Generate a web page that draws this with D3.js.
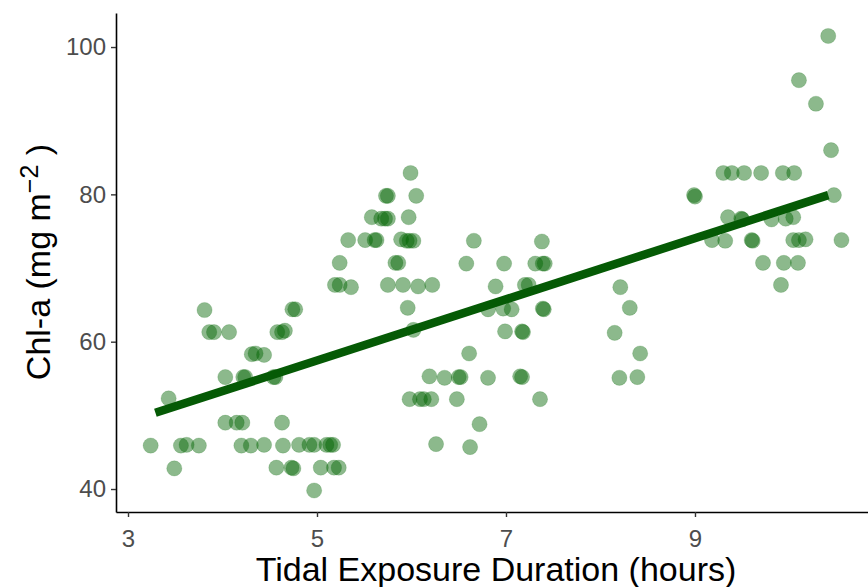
<!DOCTYPE html>
<html>
<head>
<meta charset="utf-8">
<script src="https://cdn.jsdelivr.net/npm/d3@7"></script>
<style>
  html, body { margin: 0; padding: 0; background: #ffffff; }
  svg { display: block; }
</style>
</head>
<body>
<svg id="chart" width="868" height="587"></svg>
<script>
// Tidal exposure duration (hours) and chlorophyll-a (mg m^-2) per sample
const exposureHours = [
  3.24, 3.43, 3.49, 3.56, 3.62, 3.75, 3.81, 3.86, 3.91, 4.07,
  4.03, 4.03, 4.15, 4.21, 4.22, 4.24, 4.20, 4.30, 4.31, 4.35,
  4.44, 4.44, 4.54, 4.56, 4.57, 4.58, 4.63, 4.66, 4.63, 4.64,
  4.73, 4.75, 4.74, 4.77, 4.81, 4.92, 4.97, 4.97, 5.04, 5.10,
  5.14, 5.17, 5.18, 5.23, 5.19, 5.24, 5.36, 5.24, 5.33,
  5.51, 5.61, 5.63, 5.58, 5.68, 5.72, 5.75, 5.73, 5.75, 6.05,
  5.99, 5.97, 5.89, 5.95, 5.98, 6.02, 5.83, 5.86, 5.75, 5.91,
  6.07, 6.22, 5.96, 6.02, 5.98, 6.09, 6.13, 6.21, 6.19, 6.35,
  6.50, 6.52, 6.26, 6.48, 6.62, 6.72, 6.61, 6.58, 6.66, 6.81,
  6.81, 6.89, 6.97, 6.98, 6.99, 7.06, 7.17, 7.18, 7.15, 7.17,
  7.20, 7.24, 7.31, 7.39, 7.41, 7.38, 7.39, 7.40, 7.36,
  8.21, 8.31, 8.15, 8.42, 8.20, 8.39,
  8.99, 9.00, 9.30, 9.39, 9.52, 9.70, 9.93, 10.05, 9.35, 9.49,
  9.50, 9.81, 9.96, 10.04, 9.18, 9.32, 9.60, 9.61, 10.04, 10.10,
  10.17, 10.55, 9.72, 9.94, 10.09, 9.91, 10.41, 10.10, 10.28, 10.44,
  10.47
];
const chlA = [
  45.9, 52.3, 42.8, 45.9, 46.0, 45.9, 64.3, 61.3, 61.3, 61.3,
  55.2, 49.0, 49.0, 49.0, 55.2, 55.2, 45.9, 45.9, 58.3, 58.4,
  58.2, 46.0, 55.2, 55.2, 42.9, 61.3, 61.3, 61.5, 49.0, 45.9,
  42.9, 42.8, 64.4, 64.4, 46.0, 46.0, 46.0, 39.8, 42.9, 46.0,
  46.0, 46.0, 42.9, 42.9, 67.7, 67.7, 67.4, 70.7, 73.8,
  73.8, 73.8, 73.8, 76.9, 76.7, 76.7, 76.7, 79.8, 79.8, 79.8,
  82.9, 76.9, 73.9, 73.7, 73.7, 73.7, 70.7, 70.7, 67.7, 67.7,
  67.5, 67.7, 64.6, 61.6, 52.2, 52.2, 52.2, 52.2, 55.3, 55.1,
  55.2, 55.2, 46.1, 52.2, 45.7, 48.8, 58.4, 70.6, 73.7, 64.4,
  55.1, 67.5, 64.5, 70.6, 61.4, 64.4, 61.4, 61.3, 55.3, 55.2,
  67.7, 67.7, 70.6, 70.6, 70.6, 73.6, 64.5, 64.4, 52.2,
  67.4, 64.6, 61.2, 58.4, 55.1, 55.2,
  79.9, 79.7, 82.9, 82.9, 82.9, 82.9, 82.9, 82.9, 76.9, 76.7,
  76.6, 76.6, 76.7, 76.9, 73.8, 73.7, 73.8, 73.7, 73.8, 73.8,
  73.9, 73.8, 70.7, 70.7, 70.7, 67.7, 101.5, 95.5, 92.3, 86.0,
  79.9
];

// Fitted linear trend, evaluated at its two ends
const trendHours = [3.29, 10.41];
const trendChlA = [50.35, 79.9];

const xTicks = [3, 5, 7, 9];
const yTicks = [40, 60, 80, 100];

const svg = d3.select("#chart");
const plot = { left: 116, right: 868, top: 13, bottom: 512 };

const x = d3.scaleLinear().domain([2.873, 10.831]).range([plot.left, plot.right]);
const y = d3.scaleLinear().domain([36.88, 104.62]).range([plot.bottom, plot.top]);

const font = "'Liberation Sans', Arial, Helvetica, sans-serif";

// Points
const samples = exposureHours.map((h, i) => ({ h, c: chlA[i] }));
svg.append("g")
  .selectAll("circle")
  .data(samples)
  .join("circle")
  .attr("cx", d => x(d.h))
  .attr("cy", d => y(d.c))
  .attr("r", 7.6)
  .attr("fill", "#006400")
  .attr("fill-opacity", 0.45)
  .attr("stroke", "#006400")
  .attr("stroke-opacity", 0.2)
  .attr("stroke-width", 0.8);

// Trend line
const trend = trendHours.map((h, i) => [h, trendChlA[i]]);
svg.append("path")
  .datum(trend)
  .attr("d", d3.line().x(d => x(d[0])).y(d => y(d[1])))
  .attr("fill", "none")
  .attr("stroke", "#055a05")
  .attr("stroke-width", 8.5)
  .attr("stroke-linecap", "butt");

// Axes
const xAxis = d3.axisBottom(x).tickValues(xTicks).tickSize(5).tickPadding(4).tickSizeOuter(0);
const yAxis = d3.axisLeft(y).tickValues(yTicks).tickSize(5).tickPadding(5).tickSizeOuter(0);

const gx = svg.append("g").attr("transform", `translate(0,${plot.bottom})`).call(xAxis);
const gy = svg.append("g").attr("transform", `translate(${plot.left},0)`).call(yAxis);

[gx, gy].forEach(g => {
  g.select(".domain").attr("stroke", "#000").attr("stroke-width", 1.6);
  g.selectAll(".tick line").attr("stroke", "#333").attr("stroke-width", 1.4);
  g.selectAll(".tick text")
    .attr("fill", "#4d4d4d")
    .style("font-family", font)
    .style("font-size", "24px");
});
gx.selectAll(".tick text").attr("dy", "1.08em");

// Axis titles
svg.append("text")
  .attr("x", 496)
  .attr("y", 581)
  .attr("text-anchor", "middle")
  .style("font-family", font)
  .style("font-size", "34px")
  .attr("fill", "#000")
  .text("Tidal Exposure Duration (hours)");

const yTitle = svg.append("text")
  .attr("transform", "translate(50,262) rotate(-90)")
  .attr("text-anchor", "middle")
  .style("font-family", font)
  .style("font-size", "34px")
  .attr("fill", "#000");
yTitle.append("tspan").text("Chl-a (mg m");
yTitle.append("tspan").attr("dy", "-0.5em").style("font-size", "25px").text("\u22122");
yTitle.append("tspan").attr("dy", "0.36em").text(" )");
</script>
</body>
</html>
